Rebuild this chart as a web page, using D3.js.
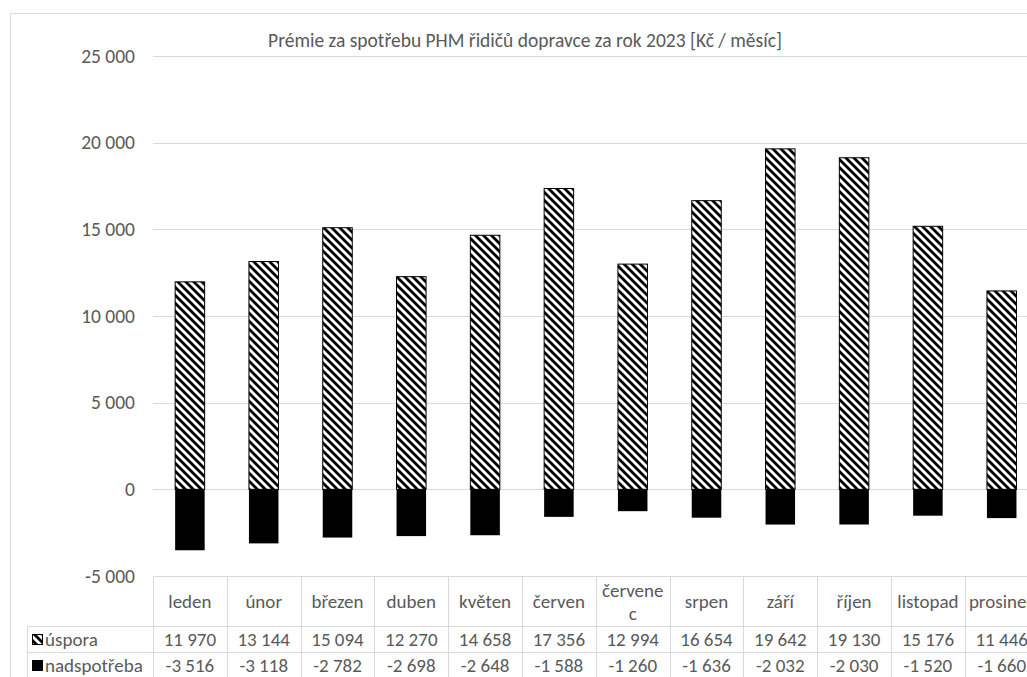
<!DOCTYPE html>
<html><head><meta charset="utf-8">
<script src="https://cdn.jsdelivr.net/npm/d3@7"></script>
<style>
html,body{margin:0;padding:0;background:#fff;overflow:hidden}
text{font-family:Carlito,Calibri,Lato,"Open Sans",sans-serif;fill:#595959}
</style></head>
<body><svg id="c" width="1027" height="677"></svg>
<script>
const title = "Prémie za spotřebu PHM řidičů dopravce za rok 2023 [Kč / měsíc]";
const months = ["leden","únor","březen","duben","květen","červen","červenec","srpen","září","říjen","listopad","prosinec"];
const uspora = [11970,13144,15094,12270,14658,17356,12994,16654,19642,19130,15176,11446];
const nadspotreba = [-3516,-3118,-2782,-2698,-2648,-1588,-1260,-1636,-2032,-2030,-1520,-1660];
const seriesNames = ["úspora","nadspotřeba"];
const yTicks = [-5000,0,5000,10000,15000,20000,25000];

const loc = d3.formatLocale({decimal:",",thousands:"\u00a0",grouping:[3],currency:["",""],minus:"-"});
const fmt = loc.format(",d");
const FS = "19.5px";
const FT = "19px";

const svg = d3.select("#c");
const defs = svg.append("defs");
const pat = defs.append("pattern").attr("id","hatch").attr("patternUnits","userSpaceOnUse")
  .attr("width",8).attr("height",8);
pat.append("rect").attr("width",8).attr("height",8).attr("fill","#fff");
pat.append("path").attr("d","M-1,-1 L9,9 M-1,7 L1,9 M7,-1 L9,1")
  .attr("stroke","#000").attr("stroke-width",2.8);

// chart border
svg.append("rect").attr("x",10.5).attr("y",13.5).attr("width",1100).attr("height",800)
  .attr("fill","none").attr("stroke","#d9d9d9");

const x0 = 153, step = 73.8;
const xBand = d3.scaleBand().domain(months).range([x0, x0 + step*months.length]).padding(0);
const xBar = d3.scaleBand().domain(months).range([x0, x0 + step*months.length]).paddingInner(0.6).paddingOuter(0.3);
const y = d3.scaleLinear().domain([-5000,25000]).range([576, 56]);

// title
svg.append("text").attr("x",525).attr("y",40).attr("dy","0.35em").attr("text-anchor","middle")
  .style("font-size",FS).text(title);

// gridlines
svg.append("g").selectAll("line").data(yTicks.filter(t=>t>-5000)).join("line")
  .attr("x1",x0).attr("x2",1100)
  .attr("y1",d=>Math.round(y(d))+0.5).attr("y2",d=>Math.round(y(d))+0.5)
  .attr("stroke","#d9d9d9").attr("stroke-width",1);

// y axis labels
svg.append("g").selectAll("text").data(yTicks).join("text")
  .attr("x",135).attr("y",d=>y(d)).attr("dy","0.35em").attr("text-anchor","end")
  .style("font-size",FS).text(d=>fmt(d));

// bars
svg.append("g").selectAll("rect").data(months).join("rect")
  .attr("x",(d)=>xBar(d)).attr("width",xBar.bandwidth())
  .attr("y",(d,i)=>y(uspora[i])).attr("height",(d,i)=>y(0)-y(uspora[i]))
  .attr("fill","url(#hatch)").attr("stroke","#000").attr("stroke-width",1);
svg.append("g").selectAll("rect").data(months).join("rect")
  .attr("x",(d)=>xBar(d)).attr("width",xBar.bandwidth())
  .attr("y",y(0)).attr("height",(d,i)=>y(nadspotreba[i])-y(0))
  .attr("fill","#000");

// data table
const tTop = 576.5, r1 = 626.5, r2 = 652.5, r3 = 678.5, tLeft = 27.5;
const tbl = svg.append("g");
const gridC = "#d9d9d9";
tbl.append("line").attr("x1",x0).attr("x2",1100).attr("y1",tTop).attr("y2",tTop).attr("stroke",gridC);
[r1,r2,r3].forEach(yy=>tbl.append("line").attr("x1",tLeft).attr("x2",1100).attr("y1",yy).attr("y2",yy).attr("stroke",gridC));
tbl.append("line").attr("x1",tLeft).attr("x2",tLeft).attr("y1",r1).attr("y2",700).attr("stroke",gridC);
months.forEach(m=>{
  const xx = Math.round(xBand(m))+0.5;
  tbl.append("line").attr("x1",xx).attr("x2",xx).attr("y1",tTop).attr("y2",700).attr("stroke",gridC);
});
const xe = Math.round(xBand(months[11])+xBand.bandwidth())+0.5;
tbl.append("line").attr("x1",xe).attr("x2",xe).attr("y1",tTop).attr("y2",700).attr("stroke",gridC);

// header text with wrapping
months.forEach((m,idx)=>{
  const cx = xBand(m)+xBand.bandwidth()/2;
  const t = tbl.append("text").attr("x",cx).attr("y",(tTop+r1)/2).attr("dy","0.35em")
    .attr("text-anchor","middle").style("font-size",FT).text(m);
  const maxW = xBand.bandwidth()-7;
  if (idx < months.length-1 && t.node().getComputedTextLength() > maxW) {
    let lines = [], cur = "";
    for (const ch of m) {
      t.text(cur+ch);
      if (t.node().getComputedTextLength() > maxW && cur) { lines.push(cur); cur = ch; }
      else cur += ch;
    }
    lines.push(cur);
    t.remove();
    const lh = 23, y0 = (tTop+r1)/2 - lh*(lines.length-1)/2;
    lines.forEach((l,i)=>tbl.append("text").attr("x",cx).attr("y",y0+i*lh).attr("dy","0.35em")
      .attr("text-anchor","middle").style("font-size",FT).text(l));
  }
});

const rows = [uspora, nadspotreba];
const rowMid = [(r1+r2)/2, (r2+r3)/2];
rows.forEach((vals,ri)=>{
  tbl.append("g").selectAll("text").data(months).join("text")
    .attr("x",d=>xBand(d)+xBand.bandwidth()/2).attr("y",rowMid[ri]).attr("dy","0.35em")
    .attr("text-anchor","middle").style("font-size",FT).text((d,i)=>fmt(vals[i]));
  tbl.append("rect").attr("x",32.5).attr("y",rowMid[ri]-5).attr("width",10).attr("height",10)
    .attr("fill", ri===0 ? "url(#hatch)" : "#000").attr("stroke","#000").attr("stroke-width",1);
  tbl.append("text").attr("x",45).attr("y",rowMid[ri]).attr("dy","0.35em")
    .style("font-size",FT).text(seriesNames[ri]);
});
</script></body></html>
